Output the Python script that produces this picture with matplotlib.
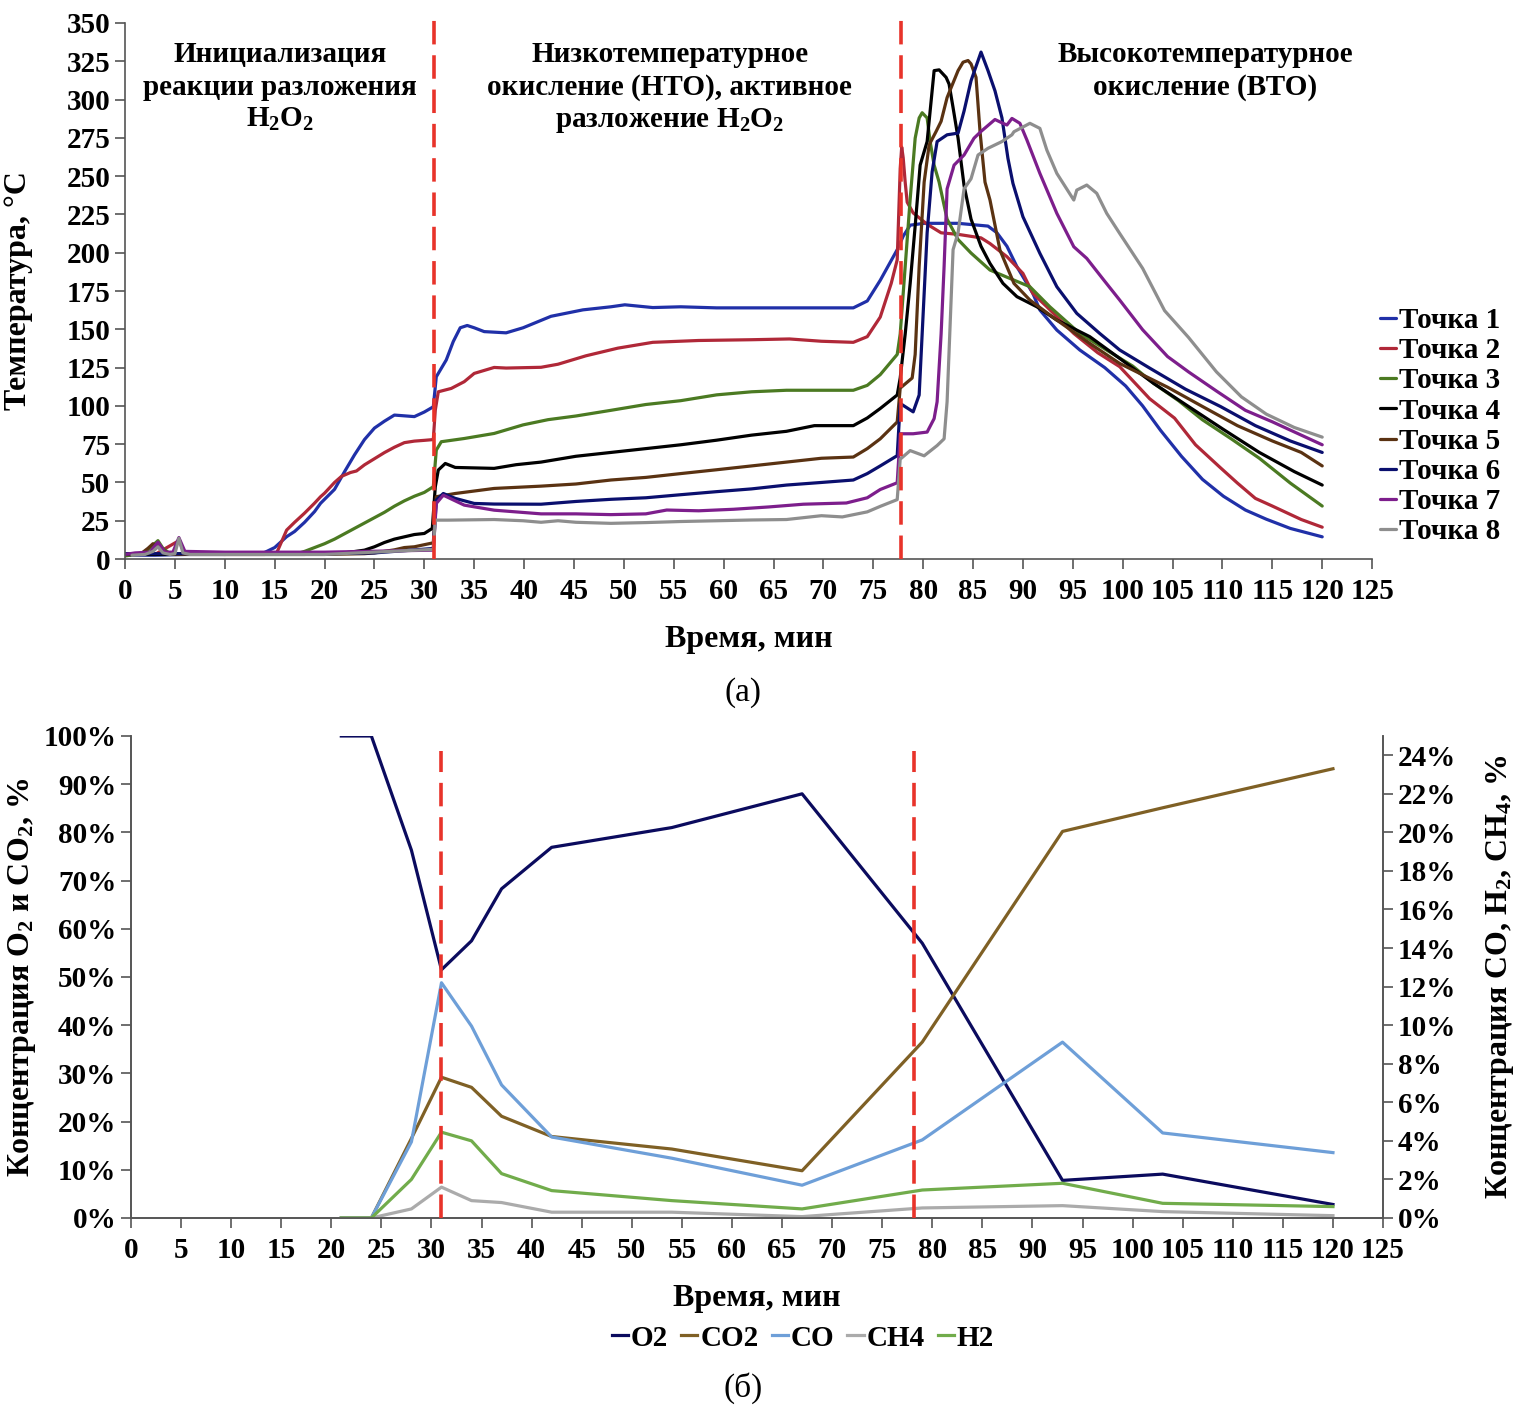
import matplotlib
matplotlib.use("Agg")
import matplotlib.pyplot as plt

plt.rcParams['font.family'] = ['Liberation Serif', 'DejaVu Serif']
plt.rcParams['font.weight'] = 'bold'
plt.rcParams['axes.labelweight'] = 'bold'
plt.rcParams['mathtext.fontset'] = 'custom'
plt.rcParams['mathtext.rm'] = 'Liberation Serif:bold'
plt.rcParams['mathtext.default'] = 'rm'

# ---- (a) temperature data, min / degC ----
t1 = [0, 3, 6, 10, 13.9, 15, 16.2, 17, 18, 19, 19.6, 20, 21, 22, 23, 24, 25, 26, 27, 28, 29, 30, 30.9, 31.2, 31.7,
      32.2, 32.9, 33.6, 34.3, 35, 36, 38.2, 39.9, 42.7, 45.9, 48.7, 50.1, 52.9, 55.7, 59.3, 66.3, 73, 74.4, 75.7, 77.4,
      78.0, 78.7, 80.1, 83.5, 86.5, 87.4, 88.4, 89.4, 91.0, 91.7, 93.4, 95.7, 98.2, 100.3, 102, 103.8, 105.9, 108,
      110.1, 112.3, 114.4, 116.8, 120]
v1 = [2.5, 2.5, 3, 3, 4, 7.5, 14.6, 18, 24, 31, 36.4, 39, 45.5, 57, 68, 78, 85.5, 90, 94, 93.5, 93, 96, 99.4, 119, 124.5,
      130, 142, 151, 152.5, 151, 148.5, 147.7, 151, 158.5, 162.7, 164.7, 166, 164.2, 164.7, 164, 164, 164, 168.5, 182, 202,
      210.8, 218, 219.2, 219.2, 217.4, 213, 204.2, 190.9, 173.4, 162.6, 149.5, 136.5, 125, 113, 100, 84, 67, 52,
      41, 32, 26, 20, 14.5]

t2 = [0, 3, 5.4, 6, 10, 14, 15.2, 16.2, 17, 18, 19, 19.6, 20, 21, 21.7, 22.6, 23.2, 24, 25, 26, 27, 28, 29, 30, 30.9,
      31.1, 31.4, 32.7, 34.0, 35.0, 37.0, 38.2, 41.7, 43.4, 46.2, 49.4, 52.9, 57.5, 62.8, 66.6, 69.8, 73, 74.4, 75.7,
      76.8, 77.4, 77.7, 77.85, 78.0, 78.2, 78.4, 79.0, 80.4, 81.8, 83.5, 85.8, 86.7, 88.4, 90.0, 91.0, 92.4, 95.1, 97.5,
      99.7, 102.7, 105.2, 107.3, 109.8, 111.5, 113.3, 115, 117.9, 120]
v2 = [3, 3, 12, 3.5, 3, 3, 4, 18.9, 24, 30, 36.5, 40.7, 43, 50, 54, 56.5, 57.5, 61.5, 65.5, 69.5, 73, 76, 77, 77.5, 78,
      97.3, 109.2, 111.4, 115.8, 121.2, 125.1, 124.7, 125.2, 127.2, 132.7, 137.7, 141.5, 142.7, 143.2, 143.7, 142.2, 141.5,
      145.2, 158, 180, 195.4, 255, 269, 262, 246, 233, 226, 218.6, 213, 212, 209.7, 206, 197.4, 186.5, 173.4, 164.7,
      147.3, 134.7, 125.6, 104.7, 92, 74.6, 59.6, 49.6, 39.6, 34.6, 25.8, 20.8]

t3 = [0, 1, 2, 2.8, 3.3, 3.8, 4.5, 6, 10, 14, 17.5, 18, 19, 20, 21, 22, 23, 24, 25, 26, 27, 28, 29, 30, 30.9, 31.2,
      31.7, 34.0, 37.0, 39.9, 42.4, 45.2, 48.7, 52.2, 55.7, 59.3, 62.8, 66.3, 69.8, 73, 74.4, 75.7, 77.4, 77.7, 78.2,
      78.7, 79.2, 79.6, 79.9, 80.4, 80.7, 81.1, 81.6, 82.4, 83.5, 84.8, 86.7, 88.7, 90.7, 92.7, 95.7, 98.2, 101, 103.1,
      105.6, 108, 110.9, 113.7, 116.8, 120]
v3 = [2, 3, 4.5, 9, 12, 7, 3.5, 3.5, 3.5, 3.5, 4, 5, 7.5, 10, 13, 16.5, 20, 23.5, 27, 30.5, 34.5, 38, 41, 43.5, 47.2,
      71.1, 76.6, 78.7, 82, 87.6, 91, 93.4, 97.1, 100.9, 103.4, 107.2, 109.2, 110.2, 110.2, 110.2, 113.4, 120.4, 133.6,
      147, 191, 235, 274.8, 288, 291.4, 288, 272.6, 257.2, 246.1, 221.9, 208.6, 199.8, 188.7, 183.2, 177.8, 164.7,
      147.3, 137.2, 126, 114.7, 103.4, 90.9, 78.4, 65.8, 49.6, 34.6]

t4 = [0, 3, 6, 10, 14, 18, 21, 22, 24, 25, 26, 27, 28, 29, 30, 30.8, 31.1, 31.4, 32.1, 33.1, 37.0, 39.2, 41.7, 45.2,
      48.7, 52.2, 55.7, 59.3, 62.8, 66.3, 69.1, 73, 74.4, 75.7, 77.4, 77.7, 78.2, 78.7, 79.2, 79.7, 80.4, 80.7, 81.1,
      81.6, 82.3, 82.6, 83.0, 83.5, 84.1, 84.8, 85.8, 86.7, 88.0, 89.4, 91.4, 93.4, 96.7, 99.7, 103.1, 106.6, 110.1,
      113.7, 117.2, 120]
v4 = [3, 3, 3, 3, 3, 3, 3.5, 4, 5.8, 8, 10.8, 13, 14.5, 16, 16.7, 20, 47.2, 58.1, 62.4, 59.8, 59.2, 61.6, 63.3, 67.1,
      69.6, 72.1, 74.6, 77.6, 80.9, 83.4, 87.1, 87.1, 92.1, 98.3, 107.1, 118.2, 146.9, 180, 217.5, 257.2, 272.6, 292.5,
      318.9, 319.4, 314.5, 310.1, 294.7, 274.8, 243.9, 221.9, 204.2, 193, 180, 171.3, 164.7, 156, 145.2, 131, 114.7,
      99.6, 84.6, 69.6, 57.1, 48.3]

t5 = [0, 1.5, 2.3, 2.8, 3.5, 4.2, 5, 10, 14, 20, 24, 25, 27, 28, 29, 30.9, 31.2, 33.1, 37.0, 41.7, 45.2, 48.7, 52.2,
      55.7, 59.3, 62.8, 66.3, 69.8, 73, 74.4, 75.7, 77.4, 77.7, 78.9, 79.2, 79.6, 80.1, 80.6, 81.3, 81.8, 82.4, 83.5,
      84.0, 84.5, 84.8, 85.3, 85.7, 86.2, 86.7, 87.7, 89.1, 90.7, 93.4, 96.7, 99.7, 104.5, 108, 111.5, 115, 117.9, 120]
v5 = [3, 3, 7, 10, 8, 4, 3, 3, 3, 3, 3.5, 4, 6, 7.5, 8, 10.6, 40.7, 42.8, 46.1, 47.6, 49, 51.6, 53.3, 55.8, 58.3, 60.8,
      63.3, 65.8, 66.6, 72.1, 78.5, 89.5, 111.6, 118.2, 133.6, 191, 246.1, 270.4, 279.2, 285.8, 301.3, 318.9, 324.4,
      325.5, 323.3, 314.5, 279.2, 246.1, 234.4, 201.7, 180, 169.1, 156, 140.8, 127.7, 112.2, 99.6, 87.1, 77.1, 69.6, 60.8]

t6 = [0, 5, 10, 14, 20, 25, 30.9, 31.2, 31.9, 33.1, 35.0, 37.0, 41.7, 45.2, 48.7, 52.2, 55.7, 59.3, 62.8, 66.3, 69.8,
      73, 74.4, 75.7, 77.4, 77.7, 79.0, 79.6, 79.9, 80.4, 80.9, 81.4, 82.4, 83.5, 84.1, 84.8, 85.8, 86.5, 87.2, 87.9,
      88.5, 89.0, 90.0, 91.7, 93.4, 95.4, 97.7, 99.7, 102.7, 106.3, 109.8, 113.3, 116.8, 120]
v6 = [3.5, 3.5, 3.5, 3.5, 3.5, 4, 6.9, 38.5, 42.8, 39.6, 36.3, 35.9, 35.8, 37.6, 39, 40, 42, 44, 45.8, 48.3, 50, 51.6,
      55.8, 60.8, 67.5, 101.6, 96.1, 107.1, 146.9, 213, 252.8, 272.6, 277, 278.1, 292.5, 312.3, 331, 318.9, 305.7, 288,
      261.6, 245.3, 223.5, 199.6, 177.8, 160.4, 147.3, 136.5, 124.7, 110.9, 99.6, 87.1, 77.1, 69.6]

t7 = [0, 1, 2.5, 3.3, 4, 4.8, 5.4, 6, 10, 20, 30.9, 31.2, 31.9, 34.0, 37.0, 41.7, 45.2, 48.7, 52.2, 54.3, 57.5, 61,
      64.5, 68, 72.3, 74.4, 75.7, 77.4, 77.7, 79.0, 80.4, 81.1, 81.4, 81.8, 82.1, 82.4, 83.1, 84.1, 85.1, 85.8, 87.2,
      88.0, 88.4, 88.9, 89.7, 90.4, 91.7, 93.4, 95.1, 96.4, 98.1, 99.7, 102, 104.5, 106.6, 109.4, 112.3, 115, 120]
v7 = [3, 4, 4.5, 11, 4.5, 4.5, 14, 5, 4.5, 4.5, 5.8, 36.3, 41.7, 35.2, 31.9, 29.5, 29.5, 29, 29.5, 32, 31.5, 32.5, 34,
      35.8, 36.6, 40, 45.4, 49.8, 81.8, 81.8, 82.9, 91.7, 102.7, 146.9, 191, 241.7, 257.2, 263.8, 274.8, 279.2, 287,
      284.5, 283.4, 287.7, 284.5, 273.6, 251.8, 225.7, 203.9, 196.3, 182.2, 169.1, 149.7, 132.2, 122.2, 109.7, 97.1,
      89.6, 74.6]

t8 = [0.7, 2, 2.8, 3.3, 3.8, 4.5, 5, 5.4, 5.8, 6.5, 10, 20, 30.9, 31.1, 32.4, 37.0, 39.9, 41.7, 43.4, 45.2, 48.7, 52.2,
      55.7, 59.3, 62.8, 66.3, 69.8, 71.9, 74.4, 75.7, 77.4, 77.7, 78.7, 80.1, 81.4, 82.1, 82.4, 83.0, 83.5, 84.1, 84.8,
      85.5, 86.5, 87.9, 88.9, 89.1, 90.7, 91.7, 92.4, 93.4, 95.1, 95.4, 96.4, 97.4, 98.4, 99.7, 102, 104.2, 106.6, 109.4,
      111.9, 114.4, 117.2, 120]
v8 = [2.5, 3, 5, 8, 4, 3, 3.5, 13.5, 4, 3, 3, 3, 6.3, 25.4, 25.4, 25.8, 25, 24, 25, 24, 23.3, 23.8, 24.5, 25, 25.5,
      25.8, 28.3, 27.5, 30.8, 34.4, 38.8, 65.2, 70.8, 67.4, 74.1, 78.5, 102.7, 202, 213, 241.7, 248.3, 263.8, 268.2,
      272.6, 277, 279, 284.5, 281.2, 267, 251.8, 234.4, 240.9, 244.2, 238.8, 225.7, 212.6, 189.8, 162.2, 144.7, 122.2,
      105.9, 94.6, 85.9, 79.6]

point_names = ['Точка 1', 'Точка 2', 'Точка 3', 'Точка 4', 'Точка 5', 'Точка 6', 'Точка 7', 'Точка 8']
point_colors = ['#2030A8', '#B02838', '#4B7A22', '#000000', '#5A3212', '#0A0F6E', '#7D1E8C', '#8E8E8E']

# ---- (б) gas composition, % ----
t_gas = [21, 24, 28, 31, 34, 37, 42, 54, 67, 79, 93, 103, 120]
o2 = [100, 100, 76.3, 51.5, 57.5, 68.3, 76.9, 81.0, 88.0, 57, 7.8, 9.1, 2.8]
co2 = [0, 0, 16.5, 29.2, 27.1, 21.1, 16.9, 14.3, 9.8, 36.5, 80.2, 85.1, 93.2]
co = [0, 0, 3.95, 12.2, 9.95, 6.9, 4.2, 3.1, 1.7, 4.05, 9.12, 4.41, 3.39]
ch4 = [0, 0, 0.47, 1.6, 0.9, 0.8, 0.3, 0.3, 0.07, 0.52, 0.64, 0.33, 0.12]
h2 = [0, 0, 2.0, 4.45, 4.0, 2.3, 1.42, 0.9, 0.47, 1.45, 1.8, 0.76, 0.59]

stage_times = [31, 77.8]
gas_stage_times = [31, 78.2]

red = '#E8332A'
spine_c = '#555555'

fig = plt.figure(figsize=(15.21, 14.11), dpi=100)

# ================= top chart =================
ax1 = fig.add_axes([0.0822, 0.6038, 0.8199, 0.3799])
series = [(t1, v1), (t2, v2), (t3, v3), (t4, v4), (t5, v5), (t6, v6), (t7, v7), (t8, v8)]
handles = []
for (tt, vv), name, c in zip(series, point_names, point_colors):
    ln, = ax1.plot(tt, vv, color=c, lw=2.3, label=name, solid_capstyle='round')
    handles.append(ln)

for xs in stage_times:
    ax1.plot([xs, xs], [0, 356], color=red, lw=2.6, dashes=(6.5, 3), clip_on=False, zorder=5)

ax1.set_xlim(0, 125)
ax1.set_ylim(0, 350)
ax1.set_xticks(range(0, 126, 5))
ax1.set_yticks(range(0, 351, 25))
ax1.tick_params(labelsize=21, length=7, width=1.2, color=spine_c)
ax1.tick_params(axis='x', pad=7)
for s in ['top', 'right']:
    ax1.spines[s].set_visible(False)
for s in ['left', 'bottom']:
    ax1.spines[s].set_color(spine_c)
    ax1.spines[s].set_linewidth(1.2)
ax1.set_xlabel('Время, мин', fontsize=23, labelpad=14)
ax1.set_ylabel('Температура, °C', fontsize=23, labelpad=24)

# stage captions
ax1.text(15.5, 338, 'Инициализация\nреакции разложения\nH$_2$O$_2$', ha='center', va='top',
         fontsize=21, linespacing=1.25)
ax1.text(54.6, 338, 'Низкотемпературное\nокисление (НТО), активное\nразложение H$_2$O$_2$', ha='center', va='top',
         fontsize=21, linespacing=1.25)
ax1.text(108.3, 338, 'Высокотемпературное\nокисление (ВТО)', ha='center', va='top',
         fontsize=21, linespacing=1.25)

fig.legend(handles=handles, loc='upper left', bbox_to_anchor=(1380 / 1521, 1 - 307 / 1411),
           frameon=False, fontsize=21, handlelength=0.55, handletextpad=0.1, labelspacing=0.11,
           borderaxespad=0, borderpad=0)

fig.text(743 / 1521, 1 - 693 / 1411, '(а)', ha='center', va='center', fontsize=24, fontweight='normal')

# ================= bottom chart =================
ax2 = fig.add_axes([0.0861, 0.1368, 0.8232, 0.3416])
ax3 = ax2.twinx()

l_o2, = ax2.plot(t_gas, o2, color='#0B0B5E', lw=2.3, label='O2')
l_co2, = ax2.plot(t_gas, co2, color='#7F6025', lw=2.3, label='CO2')
l_co, = ax3.plot(t_gas, co, color='#6E9FD8', lw=2.3, label='CO')
l_ch4, = ax3.plot(t_gas, ch4, color='#ABABAB', lw=2.3, label='CH4')
l_h2, = ax3.plot(t_gas, h2, color='#71AC4B', lw=2.3, label='H2')

for xs in gas_stage_times:
    ax3.plot([xs, xs], [0, 24.2], color=red, lw=2.6, dashes=(6.5, 3), zorder=5)

ax2.set_xlim(0, 125)
ax2.set_ylim(0, 100)
ax3.set_ylim(0, 25)
ax2.set_xticks(range(0, 126, 5))
ax2.set_yticks(range(0, 101, 10))
ax2.set_yticklabels([f'{v}%' for v in range(0, 101, 10)])
ax3.set_yticks(range(0, 25, 2))
ax3.set_yticklabels([f'{v}%' for v in range(0, 25, 2)])
ax2.tick_params(labelsize=21, length=7, width=1.2, color=spine_c)
ax2.tick_params(axis='x', pad=7)
ax3.tick_params(labelsize=21, length=7, width=1.2, color=spine_c)
ax2.spines['top'].set_visible(False)
ax3.spines['top'].set_visible(False)
for a in (ax2, ax3):
    for s in ['left', 'bottom', 'right']:
        a.spines[s].set_color(spine_c)
        a.spines[s].set_linewidth(1.2)

ax2.set_xlabel('Время, мин', fontsize=23, labelpad=14)
ax2.set_ylabel('Концентрация O$_2$ и CO$_2$, %', fontsize=23, labelpad=4)
ax3.set_ylabel('Концентрация CO, H$_2$, CH$_4$, %', fontsize=23, labelpad=20)

fig.legend(handles=[l_o2, l_co2, l_co, l_ch4, l_h2], loc='center', ncol=5,
           bbox_to_anchor=(803 / 1521, 1 - 1338 / 1411), frameon=False, fontsize=21,
           handlelength=0.55, handletextpad=0.1, columnspacing=0.45)

fig.text(743 / 1521, 1 - 1388 / 1411, '(б)', ha='center', va='center', fontsize=24, fontweight='normal')

fig.savefig('out.png', dpi=100)
